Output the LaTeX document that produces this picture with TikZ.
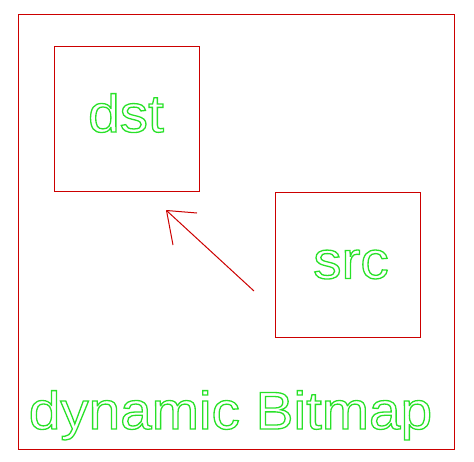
\documentclass[tikz,border=0pt]{standalone}
\usepackage{fontspec}
\setmainfont{Liberation Sans}
\newfontfamily\hollowfont[FakeStretch=1.07]{Liberation Sans}
\definecolor{boxred}{RGB}{204,0,0}
\definecolor{textgreen}{RGB}{40,225,40}
\newcommand\outlineon{\special{pdf:literal direct 1 Tr 1.3 w}}
\tikzset{
  box/.style={draw=boxred, line width=1pt, inner sep=0pt},
  hollow/.style={anchor=base, inner sep=0pt, text=textgreen,
    font=\hollowfont\fontsize{53}{60}\selectfont\outlineon},
}
\begin{document}
\begin{tikzpicture}[x=1pt,y=-1pt]
      \useasboundingbox (0,0) rectangle (474,461);
      \draw
        (236,231.5) node[box, minimum width=436, minimum height=435] (bitmap){}
        (126.5,118.5) node[box, minimum width=145, minimum height=145] (dst){}
        (348,264.5) node[box, minimum width=145, minimum height=145] (src){};
      \draw
        (126,132) node[hollow] (dsttext){dst}
        (351,278.5) node[hollow] (srctext){src}
        (230.5,429) node[hollow] (bitmaptext){dynamic Bitmap};
      \coordinate (tail) at (254,291);
      \coordinate (tip) at (166.5,210.5);
      \coordinate (barbA) at (197,213);
      \coordinate (barbB) at (173,245);
      \begin{scope}[draw=boxred, line width=1pt]
        \draw (tail) to (tip);
        \draw (tip) to (barbA);
        \draw (tip) to (barbB);
      \end{scope}
    \end{tikzpicture}
\end{document}
